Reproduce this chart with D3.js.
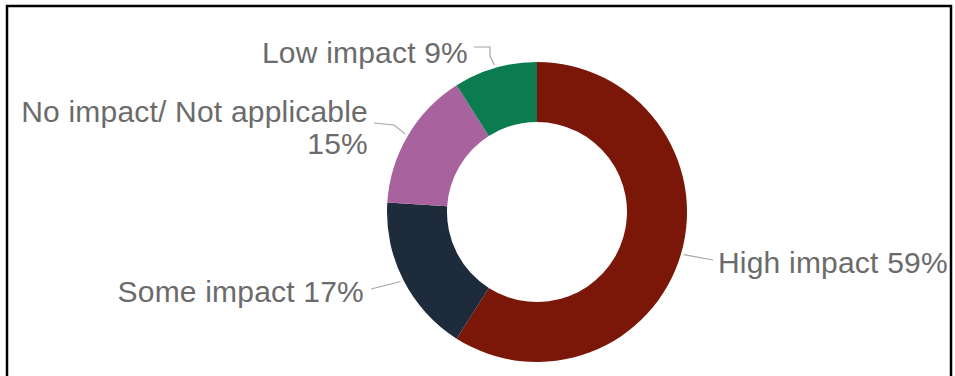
<!DOCTYPE html>
<html>
<head>
<meta charset="utf-8">
<script src="https://cdn.jsdelivr.net/npm/d3@7"></script>
<style>
  html, body { margin: 0; padding: 0; background: #fff; }
  svg { display: block; }
</style>
</head>
<body>
<svg id="chart" width="955" height="376"></svg>
<script>
// Share of respondents by level of impact (clockwise from 12 o'clock)
const categories = ["High impact", "Some impact", "No impact/ Not applicable", "Low impact"];
const values = [59, 17, 15, 9];
const colors = ["#7b1708", "#1d2b3b", "#a8629e", "#0b7c4f"];

// Label lines per slice (the long label wraps onto two lines)
const labelLines = [
  ["High impact 59%"],
  ["Some impact 17%"],
  ["No impact/ Not applicable", "15%"],
  ["Low impact 9%"]
];

const W = 955, H = 376;
const cx = 537, cy = 212, rOuter = 150, rInner = 90;

const svg = d3.select("#chart");

// Frame around the chart area
svg.append("path")
  .attr("d", `M7,${H} L7,6 L951,6 L951,${H}`)
  .attr("fill", "none")
  .attr("stroke", "#000")
  .attr("stroke-width", 2.5);

const data = categories.map((c, i) => ({ name: c, value: values[i], color: colors[i], lines: labelLines[i] }));

const pie = d3.pie().value(d => d.value).sort(null);
const arcs = pie(data);
const arc = d3.arc().innerRadius(rInner).outerRadius(rOuter);

const g = svg.append("g").attr("transform", `translate(${cx},${cy})`);

g.selectAll("path.slice")
  .data(arcs)
  .join("path")
  .attr("class", "slice")
  .attr("d", arc)
  .attr("fill", d => d.data.color);

// Label placement: anchor point for the text and the leader-line elbow
const labelLayout = [
  { x: 718, y: 273, anchor: "start", leader: [[713, 260], [684, 256]] },
  { x: 364, y: 302, anchor: "end",   leader: [[371, 289], [395, 283]] },
  { x: 368, y: 122, anchor: "end",   leader: [[374, 123], [394, 125]] },
  { x: 468, y: 63,  anchor: "end",   leader: [[474, 47], [490, 47], [490, 56]] }
];

// Leader lines run from the label to the outer edge of each slice
arcs.forEach((a, i) => {
  const mid = (a.startAngle + a.endAngle) / 2;
  const edge = [cx + Math.sin(mid) * (rOuter + 3), cy - Math.cos(mid) * (rOuter + 3)];
  const pts = labelLayout[i].leader.slice();
  if (i !== 0) pts.push(edge); else pts[pts.length - 1] = edge;
  svg.append("path")
    .attr("d", d3.line()(pts))
    .attr("fill", "none")
    .attr("stroke", "#a6a6a6")
    .attr("stroke-width", 1.2);
});

arcs.forEach((a, i) => {
  const L = labelLayout[i];
  const t = svg.append("text")
    .attr("x", L.x)
    .attr("y", L.y)
    .attr("text-anchor", L.anchor)
    .attr("font-family", "'Liberation Sans', Arial, sans-serif")
    .attr("font-size", 30)
    .attr("letter-spacing", 0.2)
    .attr("fill", "#6b6b6b");
  a.data.lines.forEach((ln, k) => {
    t.append("tspan")
      .attr("x", L.x)
      .attr("dy", k === 0 ? 0 : 32)
      .text(ln);
  });
});
</script>
</body>
</html>
